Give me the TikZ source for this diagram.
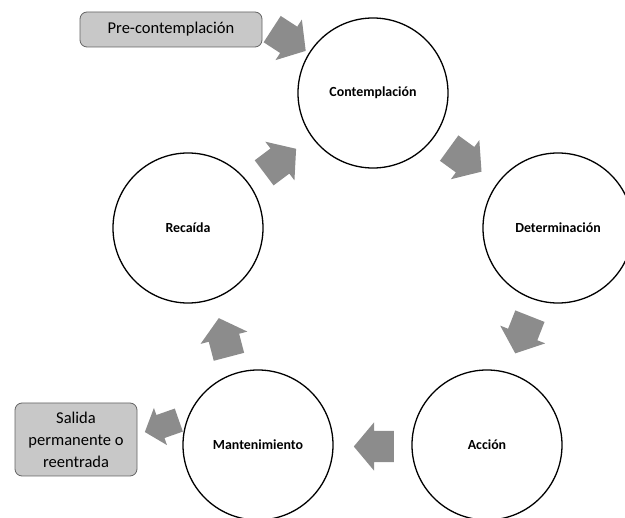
\documentclass[tikz,border=0pt]{standalone}
\usepackage{fontspec}
\setmainfont{Carlito}
\usetikzlibrary{shapes.arrows}
\definecolor{arrowgray}{RGB}{140,140,140}
\definecolor{boxgray}{RGB}{200,200,200}
\definecolor{boxline}{RGB}{100,100,100}
\begin{document}
\begin{tikzpicture}[x=1pt,y=-1pt,
  stage/.style={circle, draw=black, line width=1.3pt, minimum size=150pt,
    inner sep=0pt, font=\bfseries\fontsize{13.9}{15}\selectfont},
  blockarrow/.style={single arrow, fill=arrowgray, draw=none, anchor=tail,
    minimum height=40pt, inner xsep=0pt, inner ysep=15.5pt,
    single arrow head extend=8.5pt, single arrow tip angle=100},
  phasebox/.style={rounded corners=7pt, draw=boxline, fill=boxgray,
    line width=0.8pt, align=center, inner sep=0pt,
    font=\fontsize{16.5}{22}\selectfont}]
\useasboundingbox (0,0) rectangle (625,518);

% stages of the cycle
\node[stage] (cont) at (373,93)  {Contemplación};
\node[stage] (rec)  at (188,228) {Recaída};
\node[stage] (det)  at (558,228) {Determinación};
\node[stage] (mant) at (258,445) {Mantenimiento};
\node[stage] (acc)  at (487,445) {Acción};

% entry and exit boxes
\node[phasebox, minimum width=182pt, minimum height=35pt] (pre) at (171,29.5)
  {Pre-contemplación};
\node[phasebox, minimum width=122pt, minimum height=73pt] (sal) at (76,439.5)
  {Salida\\permanente o\\reentrada};

% block arrows between the stages, placed by their tails
\node[blockarrow, rotate=-33]    (a1) at (272,29)  {};
\node[blockarrow, rotate=-36]    (a2) at (449,148) {};
\node[blockarrow, rotate=-111.5] (a3) at (530,316) {};
\node[blockarrow, rotate=180]    (a4) at (394,446.5) {};
\node[blockarrow, rotate=104.7]  (a5) at (229,357) {};
\node[blockarrow, rotate=37]     (a6) at (264,173) {};
\node[blockarrow, rotate=-160.6, minimum height=36pt, inner ysep=12pt,
  single arrow head extend=7.5pt] (a7) at (179,420) {};
\end{tikzpicture}
\end{document}
